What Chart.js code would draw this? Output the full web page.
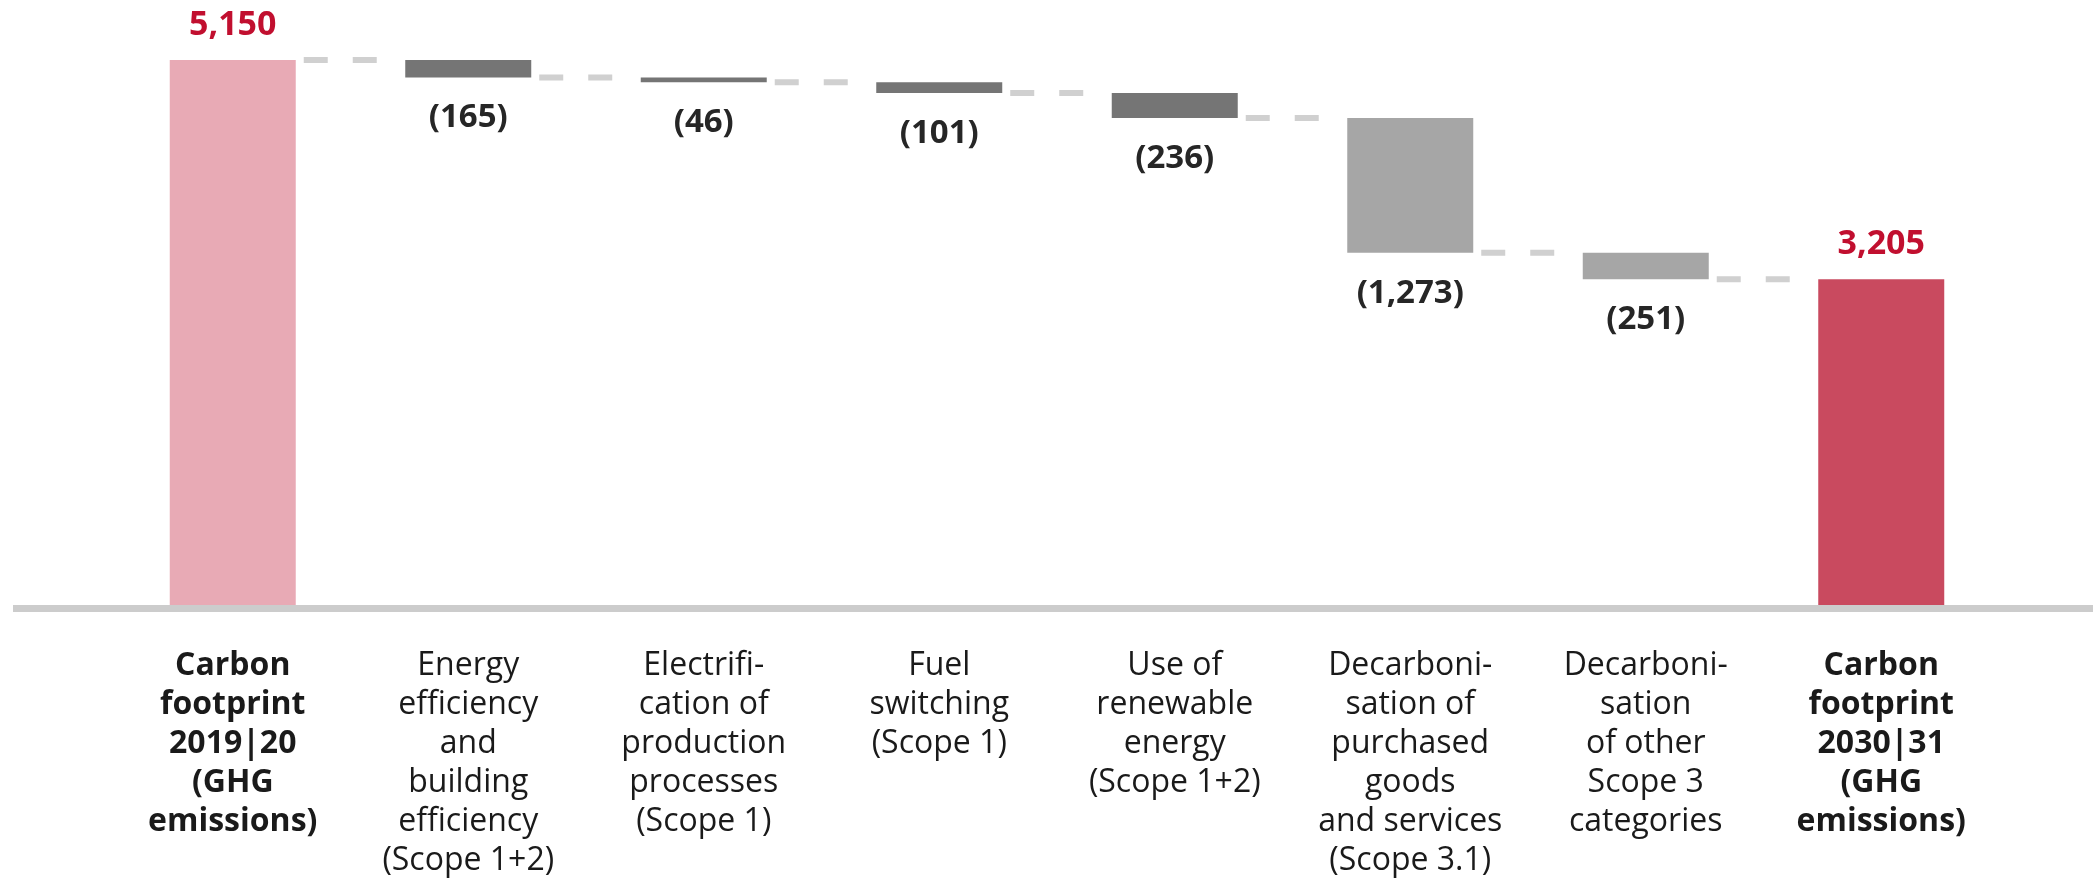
<!DOCTYPE html>
<html>
<head>
<meta charset="utf-8">
<script src="https://cdn.jsdelivr.net/npm/chart.js@4.4.1/dist/chart.umd.min.js"></script>
<style>
  html, body { margin: 0; padding: 0; background: #ffffff; }
  #wrap { width: 2093px; height: 878px; position: relative; }
</style>
</head>
<body>
<div id="wrap"><canvas id="c"></canvas></div>
<script>
// ---- Data ----
const categories = [
  ["Carbon", "footprint", "2019|20", "(GHG", "emissions)"],
  ["Energy", "efficiency", "and", "building", "efficiency", "(Scope 1+2)"],
  ["Electrifi-", "cation of", "production", "processes", "(Scope 1)"],
  ["Fuel", "switching", "(Scope 1)"],
  ["Use of", "renewable", "energy", "(Scope 1+2)"],
  ["Decarboni-", "sation of", "purchased", "goods", "and services", "(Scope 3.1)"],
  ["Decarboni-", "sation", "of other", "Scope 3", "categories"],
  ["Carbon", "footprint", "2030|31", "(GHG", "emissions)"]
];
// floating bar ends as drawn
const barLow  = [0,    4985, 4939, 4838, 4602, 3329, 3078, 0];
const barHigh = [5150, 5150, 4985, 4939, 4838, 4602, 3329, 3078];
const valueLabels = ["5,150", "(165)", "(46)", "(101)", "(236)", "(1,273)", "(251)", "3,205"];
const isTotal = [true, false, false, false, false, false, false, true];

// ---- Styles ----
const barColors = ["#e8aab5", "#757575", "#757575", "#757575", "#757575", "#a6a6a6", "#a6a6a6", "#c94a5f"];
const totalColor = "#c10f2f";
const deltaColor = "#262626";
const FONT = "'Open Sans', 'Noto Sans', sans-serif";

const barData = barLow.map((lo, i) => [lo, barHigh[i]]);

const axisLinePlugin = {
  id: 'axisLine',
  beforeDatasetsDraw(chart) {
    const y0 = chart.scales.y.getPixelForValue(0);
    const ctx = chart.ctx;
    ctx.save();
    ctx.fillStyle = '#cccccc';
    ctx.fillRect(13, Math.round(y0), chart.width - 13, 7);
    ctx.restore();
  }
};

const connectorPlugin = {
  id: 'connectors',
  afterDatasetsDraw(chart) {
    const meta = chart.getDatasetMeta(0);
    const ys = chart.scales.y;
    const ctx = chart.ctx;
    ctx.save();
    ctx.strokeStyle = '#d0d0d0';
    ctx.lineWidth = 6;
    ctx.lineCap = 'butt';
    ctx.setLineDash([24, 25]);
    for (let i = 0; i < meta.data.length - 1; i++) {
      const a = meta.data[i], b = meta.data[i + 1];
      const y = ys.getPixelForValue(barHigh[i + 1]);
      const x1 = a.x + a.width / 2 + 8;
      const x2 = x1 + 73;
      ctx.beginPath();
      ctx.moveTo(x1, y);
      ctx.lineTo(Math.min(x2, b.x - b.width / 2 - 4), y);
      ctx.stroke();
    }
    ctx.restore();
  }
};

const valueLabelPlugin = {
  id: 'valueLabels',
  afterDatasetsDraw(chart) {
    const meta = chart.getDatasetMeta(0);
    const ys = chart.scales.y;
    const ctx = chart.ctx;
    ctx.save();
    ctx.textAlign = 'center';
    ctx.textBaseline = 'alphabetic';
    meta.data.forEach((el, i) => {
      if (isTotal[i]) {
        ctx.font = "bold 34px " + FONT;
        ctx.fillStyle = totalColor;
        ctx.fillText(valueLabels[i], el.x, ys.getPixelForValue(barHigh[i]) - 25);
      } else {
        ctx.font = "bold 33px " + FONT;
        ctx.fillStyle = deltaColor;
        ctx.fillText(valueLabels[i], el.x, ys.getPixelForValue(barLow[i]) + 50);
      }
    });
    ctx.restore();
  }
};

new Chart(document.getElementById('c'), {
  type: 'bar',
  data: {
    labels: categories,
    datasets: [{
      data: barData,
      backgroundColor: barColors,
      borderWidth: 0,
      borderSkipped: false,
      barPercentage: 0.535,
      categoryPercentage: 1.0
    }]
  },
  options: {
    responsive: true,
    maintainAspectRatio: false,
    animation: false,
    layout: { padding: { top: 7, left: 115, right: 94, bottom: 0 } },
    plugins: { legend: { display: false }, tooltip: { enabled: false } },
    scales: {
      x: {
        grid: { display: false, drawTicks: false },
        border: { display: false },
        afterFit(scale) { scale.height = 273; },
        ticks: {
          autoSkip: false,
          maxRotation: 0,
          minRotation: 0,
          padding: 41,
          color: '#1a1a1a',
          font: (ctx) => ({
            family: FONT,
            size: 32,
            weight: (ctx.index === 0 || ctx.index === 7) ? 'bold' : 'normal',
            lineHeight: 1.22
          })
        }
      },
      y: {
        display: false,
        min: 0,
        max: 5650
      }
    }
  },
  plugins: [axisLinePlugin, connectorPlugin, valueLabelPlugin]
});
</script>
</body>
</html>
